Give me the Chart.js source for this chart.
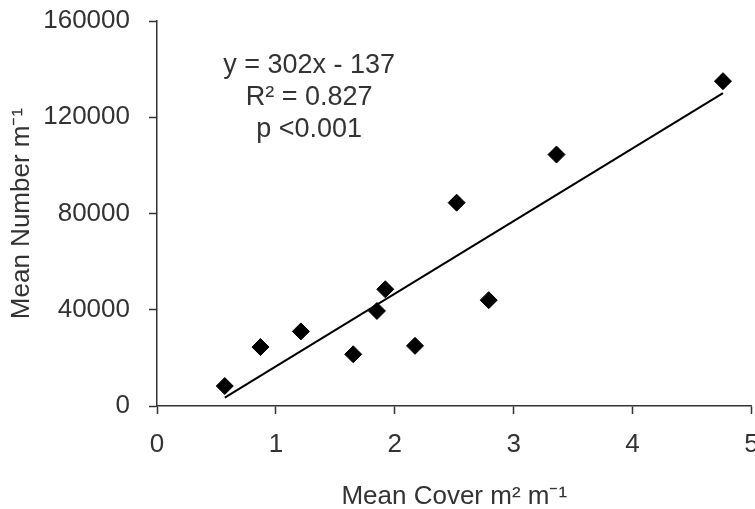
<!DOCTYPE html>
<html>
<head>
<meta charset="utf-8">
<script src="https://cdn.jsdelivr.net/npm/chart.js@4.4.0/dist/chart.umd.min.js"></script>
<style>
  html, body { margin: 0; padding: 0; background: #fff; overflow: hidden; }
  #wrap { width: 761px; height: 509px; }
</style>
</head>
<body>
<div id="wrap"><canvas id="cover"></canvas></div>
<script>
// values
var cover = [0.57, 0.87, 1.21, 1.65, 1.85, 1.92, 2.17, 2.52, 2.79, 3.36, 4.76];
var number = [8300, 24500, 31000, 21500, 39500, 48500, 25000, 84500, 44000, 104500, 135000];
var trendX = [0.57, 4.76];
var trendY = [3500, 130000];
var xTicks = [0, 1, 2, 3, 4, 5];
var yTicks = [0, 40000, 80000, 120000, 160000];
var notes = ['y = 302x - 137', 'R\u00b2 = 0.827', 'p <0.001'];

var FONT = "'Liberation Sans', Arial, sans-serif";
var INK = '#333';

var points = cover.map((x, i) => ({ x: x, y: number[i] }));
var trend = trendX.map((x, i) => ({ x: x, y: trendY[i] }));

// equation text in the upper left, anchored in data units
const notePlugin = {
  id: 'notes',
  afterDatasetsDraw(chart) {
    const ctx = chart.ctx;
    const px = chart.scales.x.getPixelForValue(1.28);
    const py = chart.scales.y.getPixelForValue(141300);
    ctx.save();
    ctx.font = `27px ${FONT}`;
    ctx.fillStyle = INK;
    ctx.textAlign = 'center';
    ctx.textBaseline = 'middle';
    notes.forEach((t, i) => ctx.fillText(t, px, py + i * 32));
    ctx.restore();
  }
};

new Chart(document.getElementById('cover'), {
  type: 'scatter',
  data: {
    datasets: [
      {
        label: 'data',
        data: points,
        pointStyle: 'rectRot',
        pointRadius: 8.5,
        backgroundColor: '#000',
        borderColor: '#000',
        borderWidth: 1
      },
      {
        label: 'trend',
        data: trend,
        showLine: true,
        borderColor: '#000',
        borderWidth: 2,
        pointRadius: 0
      }
    ]
  },
  options: {
    responsive: true,
    maintainAspectRatio: false,
    animation: false,
    events: [],
    layout: { padding: { top: 21, right: 4, left: 0, bottom: 0 } },
    plugins: {
      legend: { display: false },
      tooltip: { enabled: false }
    },
    scales: {
      x: {
        type: 'linear',
        min: 0,
        max: 5,
        afterBuildTicks: s => { s.ticks = xTicks.map(v => ({ value: v })); },
        afterFit: s => { s.height = 103; s.paddingLeft = 0; s.paddingRight = 0; },
        grid: { drawOnChartArea: false, tickLength: 8, tickColor: INK, tickWidth: 1.5 },
        border: { color: INK, width: 1.5 },
        ticks: { color: INK, padding: 15, font: { family: FONT, size: 26 }, callback: v => String(v) },
        title: {
          display: true,
          text: 'Mean Cover m\u00b2 m\u207b\u00b9',
          color: INK,
          padding: { top: 0, bottom: -3 },
          font: { family: FONT, size: 26 }
        }
      },
      y: {
        type: 'linear',
        min: 0,
        max: 160000,
        afterBuildTicks: s => { s.ticks = yTicks.map(v => ({ value: v })); },
        afterFit: s => { s.width = 157; s.paddingTop = 0; s.paddingBottom = 0; },
        grid: { drawOnChartArea: false, tickLength: 8, tickColor: INK, tickWidth: 1.5 },
        border: { color: INK, width: 1.5 },
        ticks: { color: INK, padding: 19, font: { family: FONT, size: 26 }, callback: v => String(v) },
        title: {
          display: true,
          text: 'Mean Number m\u207b\u00b9',
          color: INK,
          padding: { top: 6, bottom: 0 },
          font: { family: FONT, size: 26 }
        }
      }
    }
  },
  plugins: [notePlugin]
});
</script>
</body>
</html>
